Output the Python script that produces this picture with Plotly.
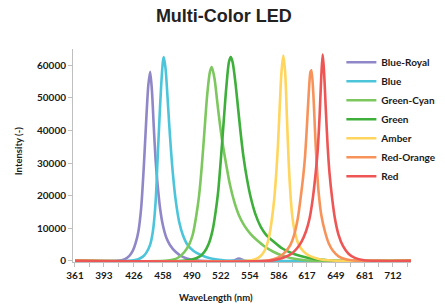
import plotly.graph_objects as go

# ---- data ----
series_names = ["Blue-Royal", "Blue", "Green-Cyan", "Green", "Amber", "Red-Orange", "Red"]

blue_royal_x = [361, 408, 416, 421, 425, 428, 431, 434, 437, 440, 442, 444, 446, 448, 450, 452, 455, 458, 462, 466, 472, 480, 490, 500, 535, 542, 549, 732]
blue_royal_y = [0, 0, 500, 1500, 3200, 5500, 9000, 16000, 29000, 45000, 54000, 58000, 52000, 41000, 31000, 24000, 16000, 11000, 7000, 4800, 2800, 1200, 300, 0, 0, 700, 0, 0]

blue_x = [361, 420, 430, 436, 440, 444, 447, 450, 452, 454, 456, 458, 459, 461, 463, 465, 467, 469, 472, 476, 480, 485, 492, 500, 510, 525, 540, 732]
blue_y = [0, 0, 400, 1300, 2600, 5000, 9000, 18000, 30000, 42000, 53000, 61000, 62500, 59000, 51000, 42000, 34000, 27000, 19000, 12000, 8000, 5000, 3000, 1800, 800, 200, 0, 0]

green_cyan_x = [361, 460, 470, 476, 482, 487, 491, 495, 498, 501, 504, 507, 510, 512, 515, 518, 521, 524, 528, 532, 537, 542, 548, 555, 562, 570, 580, 590, 600, 615, 630, 732]
green_cyan_y = [0, 0, 400, 1200, 2800, 5000, 8000, 14000, 20000, 29000, 40000, 51000, 58000, 59500, 56000, 49000, 42000, 36000, 29500, 23500, 18000, 14000, 10800, 8200, 6300, 4500, 2800, 1600, 800, 200, 0, 0]

green_x = [361, 480, 490, 498, 504, 509, 513, 516, 519, 522, 525, 528, 531, 533, 535, 538, 541, 544, 547, 551, 555, 560, 566, 572, 580, 590, 600, 610, 625, 640, 660, 732]
green_y = [0, 0, 400, 1200, 2800, 5500, 9500, 14500, 21000, 31000, 42000, 53000, 61000, 62500, 61000, 55000, 47000, 39000, 32000, 25000, 19500, 14500, 10500, 8000, 6000, 3800, 2400, 1500, 600, 200, 0, 0]

amber_x = [361, 550, 560, 566, 571, 575, 578, 581, 583, 585, 587, 589, 591, 593, 595, 597, 599, 601, 604, 608, 613, 620, 630, 645, 660, 732]
amber_y = [0, 0, 500, 1500, 3500, 7000, 12000, 19000, 26000, 35000, 47000, 58000, 63000, 58000, 44000, 30000, 20000, 13500, 8500, 5000, 3000, 1500, 600, 100, 0, 0]

red_orange_x = [361, 570, 580, 588, 594, 599, 603, 607, 610, 613, 615, 617, 619, 621, 622, 624, 626, 628, 630, 633, 637, 641, 646, 652, 660, 675, 732]
red_orange_y = [0, 0, 500, 1500, 3000, 5000, 8000, 13000, 19000, 26000, 32000, 41000, 51000, 58000, 58500, 52000, 40000, 29000, 21000, 14000, 9000, 5500, 3000, 1400, 500, 0, 0]

red_x = [361, 575, 585, 593, 600, 606, 611, 616, 620, 623, 626, 629, 631, 633, 634.5, 636, 638, 640, 642, 645, 648, 652, 657, 663, 670, 680, 695, 732]
red_y = [0, 0, 500, 1200, 2200, 3800, 5800, 9000, 13000, 18000, 25000, 34000, 44000, 57000, 63300, 58000, 46000, 35000, 27000, 19000, 13000, 8000, 4500, 2200, 900, 200, 0, 0]

x_tick_labels = [361, 393, 426, 458, 490, 522, 554, 586, 617, 649, 681, 712]
y_tick_values = [0, 10000, 20000, 30000, 40000, 50000, 60000]

# ---- styling ----
colors = ["#8F87C7", "#4CC5DA", "#7CC75E", "#3DAF3A", "#FFD55E", "#F7935A", "#EE5555"]
xs = [blue_royal_x, blue_x, green_cyan_x, green_x, amber_x, red_orange_x, red_x]
ys = [blue_royal_y, blue_y, green_cyan_y, green_y, amber_y, red_orange_y, red_y]

FONT = "Lato, 'Open Sans', sans-serif"

fig = go.Figure()
for name, x, y, c in zip(series_names, xs, ys, colors):
    fig.add_trace(go.Scatter(
        x=x, y=y, name=name, mode="lines",
        line=dict(color=c, width=2.6, shape="spline", smoothing=0.8),
    ))

# tick positions: labelled ticks plus unlabelled ticks halfway between
tick_pos, tick_txt = [], []
for i, v in enumerate(x_tick_labels):
    tick_pos.append(v); tick_txt.append(str(v))
    nxt = x_tick_labels[i + 1] if i + 1 < len(x_tick_labels) else v + 32
    tick_pos.append((v + nxt) / 2); tick_txt.append("")

# the page body adds an 8px offset, so the figure is 8px smaller than the window
fig.update_layout(
    width=437, height=298,
    margin=dict(l=65, r=34, t=41, b=44, autoexpand=False),
    paper_bgcolor="white", plot_bgcolor="white",
    font=dict(family=FONT, size=10, color="#1a1a1a"),
    title=dict(text="<b>Multi-Color LED</b>", x=0.494, xref="container", xanchor="center",
               y=0.974, yref="container", yanchor="middle",
               font=dict(family="'Liberation Sans', Arial, sans-serif", size=18, color="#222222")),
    showlegend=True,
    legend=dict(x=0.794, y=1.006, xanchor="left", yanchor="top",
                font=dict(family=FONT, size=10, color="#1a1a1a", weight="bold"),
                bgcolor="rgba(0,0,0,0)", itemwidth=30, tracegroupgap=0),
    xaxis=dict(range=[358.8, 732], tickmode="array", tickvals=tick_pos, ticktext=tick_txt,
               showgrid=False, zeroline=False, showline=True, linecolor="#BFBFBF", linewidth=1,
               ticks="outside", ticklen=4, tickcolor="#BFBFBF", automargin=False,
               tickfont=dict(family=FONT, size=10, color="#1a1a1a", weight="bold")),
    yaxis=dict(range=[-350, 65000], tickmode="array", tickvals=y_tick_values,
               ticktext=[str(v) for v in y_tick_values], automargin=False,
               showgrid=False, zeroline=False, showline=True, linecolor="#BFBFBF", linewidth=1,
               ticks="outside", ticklen=4, tickcolor="#BFBFBF",
               tickfont=dict(family=FONT, size=10, color="#1a1a1a", weight="bold")),
    annotations=[
        dict(text="<b>Intensity (-)</b>", xref="paper", yref="paper", x=-0.163, y=0.52,
             xanchor="center", yanchor="middle", textangle=-90, showarrow=False,
             font=dict(family=FONT, size=9.5, color="#1a1a1a")),
        dict(text="<b>WaveLength (nm)</b>", xref="paper", yref="paper", x=0.423, y=-0.169,
             xanchor="center", yanchor="middle", showarrow=False,
             font=dict(family=FONT, size=9.5, color="#1a1a1a")),
    ],
)

fig.write_html("out.html")
